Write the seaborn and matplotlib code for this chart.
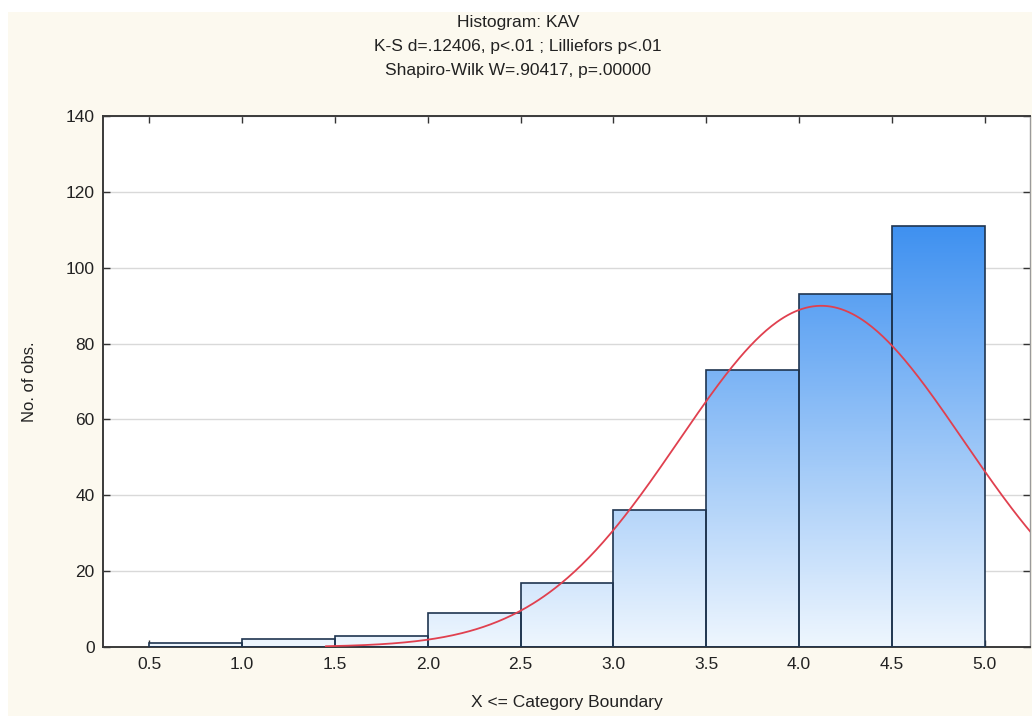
import numpy as np
import matplotlib
matplotlib.use("Agg")
import matplotlib.pyplot as plt
import seaborn as sns
from matplotlib.colors import LinearSegmentedColormap
from matplotlib.patches import Rectangle

# Histogram of KAV: bin edges and observed counts per bin
bin_edges = [0.5, 1.0, 1.5, 2.0, 2.5, 3.0, 3.5, 4.0, 4.5, 5.0]
counts = [1, 2, 3, 9, 17, 36, 73, 93, 111]
x_tick_labels = ["0.5", "1.0", "1.5", "2.0", "2.5", "3.0", "3.5", "4.0", "4.5", "5.0"]
y_ticks = [0, 20, 40, 60, 80, 100, 120, 140]

# Fitted normal distribution
fit_mean = 4.12
fit_sd = 0.765

title_lines = [
    "Histogram: KAV",
    "K-S d=.12406, p<.01 ; Lilliefors p<.01",
    "Shapiro-Wilk W=.90417, p=.00000",
]

sns.set_theme(style="ticks")
plt.rcParams["font.family"] = ["Liberation Sans", "DejaVu Sans"]

W, H = 1032, 716
fig = plt.figure(figsize=(W / 100, H / 100), dpi=100, facecolor="white")
fig.patches.append(Rectangle((8 / W, 0), 1 - 8 / W, 1 - 12 / H,
                             transform=fig.transFigure, facecolor="#fcf9ef",
                             edgecolor="none", zorder=-10))

left, right, top, bottom = 103, 1030, 116, 647
ax = fig.add_axes([left / W, 1 - bottom / H, (right - left) / W, (bottom - top) / H])
ax.set_facecolor("white")

mids = [(a + b) / 2 for a, b in zip(bin_edges[:-1], bin_edges[1:])]
sns.histplot(x=mids, weights=counts, bins=bin_edges, ax=ax, stat="count",
             edgecolor="#1f3550", linewidth=1.2, alpha=1, zorder=2)

# vertical gradient fill for each bar, shaded by height
cmap = LinearSegmentedColormap.from_list("bluegrad", ["#eef6fe", "#3a8ef0"])
ymax_grad = 114.0
for p in ax.patches:
    x0, y0 = p.get_x(), p.get_y()
    w, h = p.get_width(), p.get_height()
    p.set_facecolor("none")
    p.set_zorder(3)
    vals = np.linspace(0, h / ymax_grad, 200).reshape(-1, 1)
    im = ax.imshow(vals, cmap=cmap, vmin=0, vmax=1, origin="lower",
                   extent=(x0, x0 + w, y0, y0 + h), aspect="auto", zorder=2,
                   interpolation="bilinear")
    im.set_clip_path(p)

# expected counts under the fitted normal curve
n_total = sum(counts)
bw = bin_edges[1] - bin_edges[0]
xs = np.linspace(1.45, 5.3, 400)
ys = n_total * bw * np.exp(-0.5 * ((xs - fit_mean) / fit_sd) ** 2) / (fit_sd * np.sqrt(2 * np.pi))
sns.lineplot(x=xs, y=ys, ax=ax, color="#e0404f", linewidth=1.3, zorder=4)

ax.set_xlim(0.25, 5.245)
ax.set_ylim(0, 140)
ax.set_xticks(bin_edges)
ax.set_xticklabels(x_tick_labels)
ax.set_yticks(y_ticks)
ax.yaxis.grid(True, color="#d9d9d9", linewidth=1)
ax.set_axisbelow(True)
ax.tick_params(direction="in", top=True, right=True, length=5, width=1,
               labelsize=12.5, labelcolor="#222222", color="#333333", pad=7)
ax.tick_params(axis="y", pad=6)
for s in ["left", "bottom", "top"]:
    ax.spines[s].set_color("#3a3a3a")
    ax.spines[s].set_linewidth(1.4)
ax.spines["right"].set_color("#9a9a9a")
ax.spines["right"].set_linewidth(1.0)

ax.set_xlabel("X <= Category Boundary", fontsize=12.5, color="#222222")
ax.set_ylabel("No. of obs.", fontsize=12, color="#222222")
ax.xaxis.set_label_coords(0.5, -(703 - bottom) / (bottom - top), transform=ax.transAxes)
ax.yaxis.set_label_coords(-(left - 30) / (right - left), 0.5, transform=ax.transAxes)
ax.xaxis.label.set_va("center")
ax.yaxis.label.set_va("center")

for i, line in enumerate(title_lines):
    fig.text(518 / W, 1 - (22 + 24 * i) / H, line, ha="center", va="center",
             fontsize=12.5, color="#222222")

fig.savefig("out.png", dpi=100, facecolor=fig.get_facecolor())
